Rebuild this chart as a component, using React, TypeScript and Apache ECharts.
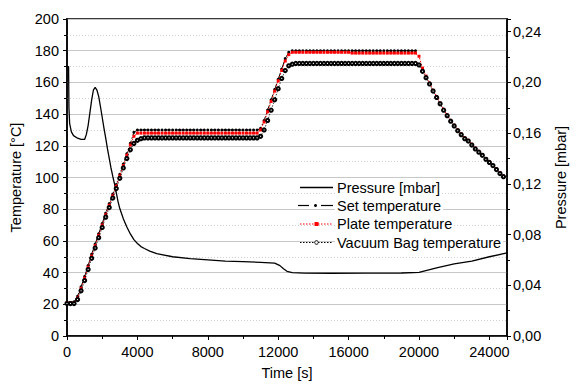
import React, { useEffect, useRef } from "react";
import * as echarts from "echarts";

// Time grid of the temperature logs [s]
const timeS = [
  0, 200, 400, 600, 800, 1000, 1200, 1400, 1600, 1800,
  2000, 2200, 2400, 2600, 2800, 3000, 3200, 3400, 3600, 3800,
  4000, 4200, 4400, 4600, 4800, 5000, 5200, 5400, 5600, 5800,
  6000, 6200, 6400, 6600, 6800, 7000, 7200, 7400, 7600, 7800,
  8000, 8200, 8400, 8600, 8800, 9000, 9200, 9400, 9600, 9800,
  10000, 10200, 10400, 10600, 10800, 11000, 11200, 11400, 11600, 11800,
  12000, 12200, 12400, 12600, 12800, 13000, 13200, 13400, 13600, 13800,
  14000, 14200, 14400, 14600, 14800, 15000, 15200, 15400, 15600, 15800,
  16000, 16200, 16400, 16600, 16800, 17000, 17200, 17400, 17600, 17800,
  18000, 18200, 18400, 18600, 18800, 19000, 19200, 19400, 19600, 19800,
  20000, 20200, 20400, 20600, 20800, 21000, 21200, 21400, 21600, 21800,
  22000, 22200, 22400, 22600, 22800, 23000, 23200, 23400, 23600, 23800,
  24000, 24200, 24400, 24600, 24800,
];

const setTemperature = [
  21, 21, 21.5, 25, 31, 37.5, 44.5, 51.5, 58, 64.5,
  71, 77.5, 83.5, 89.5, 95.5, 102, 108.5, 115, 121.5, 128.5,
  130, 130, 130, 130, 130, 130, 130, 130, 130, 130,
  130, 130, 130, 130, 130, 130, 130, 130, 130, 130,
  130, 130, 130, 130, 130, 130, 130, 130, 130, 130,
  130, 130, 130, 130, 130, 131, 136, 142.5, 149, 155.5,
  162, 168.5, 175, 179, 180, 180, 180, 180, 180, 180,
  180, 180, 180, 180, 180, 180, 180, 180, 180, 180,
  180, 180, 180, 180, 180, 180, 180, 180, 180, 180,
  180, 180, 180, 180, 180, 180, 180, 180, 180, 180,
  null, null, null, null, null, null, null, null, null, null,
  null, null, null, null, null, null, null, null, null, null,
  null, null, null, null, null,
];

const plateTemperature = [
  21, 21, 21, 24, 30, 36.5, 43.5, 50.5, 57, 63.5,
  70, 76.5, 82.5, 88.5, 94.5, 101, 107.5, 114, 120.5, 126,
  128, 128, 128, 128, 128, 128, 128, 128, 128, 128,
  128, 128, 128, 128, 128, 128, 128, 128, 128, 128,
  128, 128, 128, 128, 128, 128, 128, 128, 128, 128,
  128, 128, 128, 128, 128, 130, 135, 141.5, 148, 154.5,
  161, 167.5, 173.5, 177.5, 179, 179, 179, 179, 179, 179,
  179, 179, 179, 179, 179, 179, 179, 179, 179, 179,
  179, 178.5, 178.5, 178.5, 178.5, 178.5, 178.5, 178.5, 178.5, 178.5,
  178.5, 178.5, 178.5, 178.5, 178.5, 178.5, 178.5, 178.5, 178.5, 178.5,
  176.5, 169, 164, 159.5, 155, 151, 147, 143, 139.5, 136,
  133, 130, 127.5, 125, 123.5, 121, 118.5, 116.5, 114.5, 112,
  110, 107.5, 105.5, 103, 101,
];

const vacuumBagTemperature = [
  20.5, 20.5, 20.5, 23, 28.5, 35, 42, 49, 55.5, 62,
  68.5, 75, 81, 87, 93, 99.5, 106, 112, 117.5, 121.5,
  123.5, 124.5, 125, 125, 125, 125, 125, 125, 125, 125,
  125, 125, 125, 125, 125, 125, 125, 125, 125, 125,
  125, 125, 125, 125, 125, 125, 125, 125, 125, 125,
  125, 125, 125, 125, 125, 126, 130, 136, 142.5, 149,
  156, 162.5, 167.5, 170.5, 171.5, 172, 172, 172, 172, 172,
  172, 172, 172, 172, 172, 172, 172, 172, 172, 172,
  172, 172, 172, 172, 172, 172, 172, 172, 172, 172,
  172, 172, 172, 172, 172, 172, 172, 172, 172, 172,
  171, 167, 163, 159, 154.5, 150.5, 146.5, 142.5, 139, 135.5,
  132.5, 129.5, 127, 124.5, 123, 120.5, 118, 116, 114, 111.5,
  109.5, 107.5, 105, 102.5, 100.5,
];

const pressureTime = [
  0, 90, 110, 150, 250, 370, 600, 800, 1000, 1100,
  1200, 1300, 1400, 1500, 1600, 1700, 1800, 1900, 2000, 2100,
  2200, 2300, 2400, 2500, 2600, 2700, 2800, 2900, 3000, 3200,
  3400, 3600, 3800, 4000, 4200, 4400, 4700, 5100, 6000, 7000,
  8000, 9000, 10000, 11000, 11800, 12100, 12300, 12500, 12800, 13500,
  15000, 17000, 19000, 20000, 21000, 22000, 23000, 24000, 25000,
];

const pressureMbar = [
  0.2125, 0.2125, 0.18, 0.1675, 0.161, 0.158, 0.156, 0.155, 0.155, 0.159,
  0.166, 0.176, 0.186, 0.194, 0.196, 0.194, 0.189, 0.181, 0.1725, 0.164,
  0.156, 0.1475, 0.14, 0.1325, 0.126, 0.12, 0.113, 0.106, 0.1005, 0.0925,
  0.086, 0.0805, 0.076, 0.073, 0.0705, 0.069, 0.067, 0.065, 0.0625, 0.061,
  0.06, 0.059, 0.0587, 0.058, 0.0575, 0.0555, 0.053, 0.051, 0.05, 0.0496,
  0.0495, 0.0496, 0.0497, 0.0502, 0.0537, 0.0569, 0.059, 0.0625, 0.0655,
];

const seriesNames = [
  "Pressure [mbar]",
  "Set temperature",
  "Plate temperature",
  "Vacuum Bag temperature",
];

const FONT = "'Liberation Sans', Arial, Helvetica, sans-serif";
const FS = 14.5;

export default function App() {
  const ref = useRef<HTMLDivElement>(null);

  useEffect(() => {
    const chart = echarts.init(ref.current!, null, { renderer: "svg" });
    const pairs = (vals: (number | null)[]) =>
      timeS.map((t, i) => [t, vals[i]]);
    const pressurePairs = pressureTime.map((t, i) => [t, pressureMbar[i]]);

    const axisText = { fontSize: FS, color: "#000", fontFamily: FONT };

    // legend drawn as graphic elements
    const lx1 = 300;
    const lx2 = 333;
    const lmid = (lx1 + lx2) / 2;
    const rows = [187.5, 205.5, 224, 242.5];
    const legendText = (i: number) => ({
      type: "text",
      z: 100,
      style: {
        text: seriesNames[i],
        x: 335,
        y: rows[i],
        font: `${FS}px ${FONT}`,
        fill: "#000",
        textVerticalAlign: "middle",
        verticalAlign: "middle",
        backgroundColor: "#fff",
        padding: [1, 2, 1, 2],
      },
    });
    const graphic: any[] = [
      {
        type: "line",
        z: 100,
        shape: { x1: lx1, y1: rows[0], x2: lx2, y2: rows[0] },
        style: { stroke: "#000", lineWidth: 1.3 },
      },
      legendText(0),
      {
        type: "line",
        z: 100,
        shape: { x1: lx1 - 2, y1: rows[1], x2: lx1 + 9, y2: rows[1] },
        style: { stroke: "#000", lineWidth: 1.2 },
      },
      {
        type: "circle",
        z: 100,
        shape: { cx: lmid - 1, cy: rows[1], r: 1.5 },
        style: { fill: "#000" },
      },
      {
        type: "line",
        z: 100,
        shape: { x1: lx2 - 12, y1: rows[1], x2: lx2, y2: rows[1] },
        style: { stroke: "#000", lineWidth: 1.2 },
      },
      legendText(1),
      {
        type: "line",
        z: 100,
        shape: { x1: lx1, y1: rows[2], x2: lx2, y2: rows[2] },
        style: { stroke: "#ff0000", lineWidth: 1, lineDash: [1.5, 1.5] },
      },
      {
        type: "rect",
        z: 100,
        shape: { x: lmid - 2, y: rows[2] - 2, width: 4, height: 4 },
        style: { fill: "#ff0000" },
      },
      legendText(2),
      {
        type: "line",
        z: 100,
        shape: { x1: lx1, y1: rows[3], x2: lx2, y2: rows[3] },
        style: { stroke: "#000", lineWidth: 1, lineDash: [1.5, 1.5] },
      },
      {
        type: "circle",
        z: 101,
        shape: { cx: lmid, cy: rows[3], r: 1.8 },
        style: { fill: "#fff", stroke: "#000", lineWidth: 1 },
      },
      legendText(3),
    ];

    chart.setOption({
      animation: false,
      backgroundColor: "#fff",
      textStyle: { fontFamily: FONT },
      grid: {
        left: 67,
        right: 56,
        top: 19,
        bottom: 49,
        show: true,
        borderColor: "#3a3a3a",
        borderWidth: 2,
      },
      xAxis: {
        type: "value",
        min: 0,
        max: 25000,
        interval: 4000,
        name: "Time [s]",
        nameLocation: "middle",
        nameGap: 29,
        nameTextStyle: axisText,
        axisLine: { show: true, lineStyle: { color: "#000", width: 1.5 } },
        axisTick: { show: true, length: 4, lineStyle: { color: "#000", width: 1 } },
        minorTick: { show: true, splitNumber: 2, length: 3, lineStyle: { color: "#000", width: 1 } },
        splitLine: { show: false },
        axisLabel: {
          ...axisText,
          margin: 8,
          formatter: (v: number) => (v % 4000 === 0 ? String(v) : ""),
        },
      },
      yAxis: [
        {
          type: "value",
          position: "left",
          min: 0,
          max: 200,
          interval: 20,
          name: "Temperature [°C]",
          nameLocation: "middle",
          nameGap: 42,
          nameTextStyle: axisText,
          axisLine: { show: true, lineStyle: { color: "#000", width: 1.5 } },
          axisTick: { show: true, length: 4, lineStyle: { color: "#000", width: 1 } },
          minorTick: { show: true, splitNumber: 2, length: 3, lineStyle: { color: "#000", width: 1 } },
          splitLine: { show: true, lineStyle: { color: "#c8c8c8", width: 1 } },
          minorSplitLine: { show: true, lineStyle: { color: "#d0d0d0", width: 1, type: [1, 2] } },
          axisLabel: { ...axisText, margin: 8 },
        },
        {
          type: "value",
          position: "right",
          min: 0,
          max: 0.25,
          interval: 0.04,
          name: "Pressure [mbar]",
          nameLocation: "middle",
          nameGap: 46,
          nameTextStyle: axisText,
          axisLine: { show: true, lineStyle: { color: "#000", width: 1.5 } },
          axisTick: { show: true, length: 4, lineStyle: { color: "#000", width: 1 } },
          minorTick: { show: true, splitNumber: 2, length: 3, lineStyle: { color: "#000", width: 1 } },
          splitLine: { show: false },
          axisLabel: {
            ...axisText,
            margin: 6,
            formatter: (v: number) => {
              const k = v / 0.04;
              if (Math.abs(k - Math.round(k)) > 1e-6) return "";
              return v.toFixed(2).replace(".", ",");
            },
          },
        },
      ],
      graphic,
      series: [
        {
          name: seriesNames[0],
          type: "line",
          yAxisIndex: 1,
          data: pressurePairs,
          showSymbol: false,
          symbol: "none",
          lineStyle: { color: "#000", width: 1.3 },
          itemStyle: { color: "#000" },
          z: 3,
        },
        {
          name: seriesNames[1],
          type: "line",
          data: pairs(setTemperature),
          symbol: "circle",
          symbolSize: 3,
          itemStyle: { color: "#000" },
          lineStyle: { color: "#000", width: 1, type: [6, 2, 1.5, 2] },
          z: 4,
        },
        {
          name: seriesNames[2],
          type: "line",
          data: pairs(plateTemperature),
          symbol: "rect",
          symbolSize: 3,
          itemStyle: { color: "#ff0000" },
          lineStyle: { color: "#ff0000", width: 1, type: [1.5, 1.5] },
          z: 5,
        },
        {
          name: seriesNames[3],
          type: "line",
          data: pairs(vacuumBagTemperature),
          symbol: "emptyCircle",
          symbolSize: 3.2,
          itemStyle: { color: "#000", borderColor: "#000", borderWidth: 0.9 },
          lineStyle: { color: "#000", width: 0.8, type: [1.5, 1.5] },
          z: 6,
        },
      ],
    });
    return () => chart.dispose();
  }, []);

  return (
    <div
      ref={ref}
      style={{ position: "absolute", left: 0, top: 0, width: 576, height: 385 }}
    />
  );
}
